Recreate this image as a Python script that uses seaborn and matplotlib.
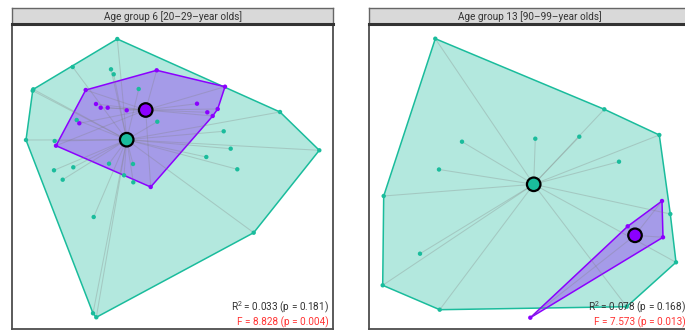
import numpy as np
import pandas as pd
import matplotlib
matplotlib.use("Agg")
import matplotlib.pyplot as plt
import seaborn as sns

# ---------------- data (ordination scores) ----------------
titles = ["Age group 6 [20\u201329\u2013year olds]", "Age group 13 [90\u201399\u2013year olds]"]

p1_teal_x = [117.3, 72.7, 33.3, 32.7, 111.0, 113.7, 138.7, 157.3, 76.7, 26.0, 54.7, 280.0, 319.3, 223.7,
             230.7, 206.3, 109.0, 133.0, 54.0, 73.3, 62.7, 124.0, 133.3, 237.3, 93.7, 253.7, 93.0, 96.3]
p1_teal_y = [39.0, 67.0, 89.3, 90.7, 69.3, 74.3, 89.0, 121.7, 120.0, 140.0, 141.0, 112.0, 150.3, 131.3,
             148.7, 157.0, 163.7, 164.0, 170.3, 167.3, 179.7, 175.3, 182.3, 169.3, 217.0, 232.7, 313.3, 317.3]
p1_purple_x = [156.7, 225.0, 85.7, 96.0, 100.7, 107.7, 126.7, 197.0, 207.3, 217.7, 212.7, 79.3, 56.0, 150.7]
p1_purple_y = [70.3, 86.7, 90.0, 104.0, 107.7, 107.7, 110.3, 103.7, 112.3, 109.0, 116.0, 123.3, 145.7, 187.0]
p1_centroid_x = [126.7, 145.7]
p1_centroid_y = [139.7, 110.0]

p2_teal_x = [435.3, 604.3, 659.3, 462.0, 535.3, 579.3, 619.0, 439.0, 383.7, 420.0, 382.7, 439.7, 670.3,
             676.0, 626.7]
p2_teal_y = [38.7, 109.3, 135.0, 141.7, 138.7, 136.7, 161.7, 169.5, 196.0, 253.7, 285.3, 309.7, 214.0,
             262.3, 306.7]
p2_purple_x = [662.0, 627.7, 663.0, 530.3]
p2_purple_y = [201.0, 226.3, 237.3, 317.7]
p2_centroid_x = [533.7, 635.0]
p2_centroid_y = [184.3, 235.3]

r2_labels = ["R$^{2}$ = 0.033 (p = 0.181)", "R$^{2}$ = 0.078 (p = 0.168)"]
f_labels = ["F = 8.828 (p = 0.004)", "F = 7.573 (p = 0.013)"]

groups = ["teal", "purple"]
colors = {"teal": "#1ABC9C", "purple": "#8B00FF"}

# ---------------- style ----------------
sns.set_theme(style="white")
plt.rcParams["font.family"] = ["Roboto", "DejaVu Sans"]
plt.rcParams["mathtext.default"] = "regular"

W, H = 685, 331
fig = plt.figure(figsize=(W / 100, H / 100), dpi=100)


def hull(pts):
    pts = sorted(set(map(tuple, pts)))
    def cross(o, a, b):
        return (a[0] - o[0]) * (b[1] - o[1]) - (a[1] - o[1]) * (b[0] - o[0])
    lower, upper = [], []
    for p in pts:
        while len(lower) >= 2 and cross(lower[-2], lower[-1], p) <= 0:
            lower.pop()
        lower.append(p)
    for p in reversed(pts):
        while len(upper) >= 2 and cross(upper[-2], upper[-1], p) <= 0:
            upper.pop()
        upper.append(p)
    return np.array(lower[:-1] + upper[:-1])


panels = [
    dict(left=12, xs={"teal": p1_teal_x, "purple": p1_purple_x}, ys={"teal": p1_teal_y, "purple": p1_purple_y},
         cx=p1_centroid_x, cy=p1_centroid_y),
    dict(left=369, xs={"teal": p2_teal_x, "purple": p2_purple_x}, ys={"teal": p2_teal_y, "purple": p2_purple_y},
         cx=p2_centroid_x, cy=p2_centroid_y),
]

pw = 321
top_panel, bot_panel = 25, 329
strip_top, strip_bot = 8, 24

for i, pan in enumerate(panels):
    L = pan["left"]
    ax = fig.add_axes([L / W, (H - bot_panel) / H, pw / W, (bot_panel - top_panel) / H])
    ax.set_xlim(L, L + pw)
    ax.set_ylim(bot_panel, top_panel)
    ax.set_xticks([]); ax.set_yticks([])
    for s in ax.spines.values():
        s.set_color("#4D4D4D"); s.set_linewidth(1.3)

    frames = []
    for g in groups:
        frames.append(pd.DataFrame({"x": pan["xs"][g], "y": pan["ys"][g], "group": g}))
    df = pd.concat(frames, ignore_index=True)
    cdf = pd.DataFrame({"x": pan["cx"], "y": pan["cy"], "group": groups})

    # hulls
    for g in groups:
        pts = np.column_stack([pan["xs"][g], pan["ys"][g]])
        hv = hull(pts)
        ax.fill(hv[:, 0], hv[:, 1], color=colors[g], alpha=0.33, lw=0, zorder=1)
        closed = np.vstack([hv, hv[:1]])
        ax.plot(closed[:, 0], closed[:, 1], color=colors[g], lw=1.1, zorder=2)

    # spokes to centroids
    for k, g in enumerate(groups):
        for x, y in zip(pan["xs"][g], pan["ys"][g]):
            ax.plot([pan["cx"][k], x], [pan["cy"][k], y], color="#808080", alpha=0.3, lw=0.75, zorder=3)

    sns.scatterplot(data=df, x="x", y="y", hue="group", palette=colors, s=10, linewidth=0,
                    legend=False, ax=ax, zorder=4)
    sns.scatterplot(data=cdf, x="x", y="y", hue="group", palette=colors, s=95, edgecolor="black",
                    linewidth=1.6, legend=False, ax=ax, zorder=5)
    ax.set_xlabel(""); ax.set_ylabel("")
    ax.set_xlim(L, L + pw)
    ax.set_ylim(bot_panel, top_panel)

    ax.text(0.9875, 0.072, r2_labels[i], transform=ax.transAxes, ha="right", va="center",
            fontsize=7.2, color="#333333", zorder=6)
    ax.text(0.9875, 0.0214, f_labels[i], transform=ax.transAxes, ha="right", va="center",
            fontsize=7.2, color="#FF3333", zorder=6)

    # strip
    sax = fig.add_axes([L / W, (H - strip_bot) / H, pw / W, (strip_bot - strip_top) / H])
    sax.set_facecolor("#D9D9D9")
    sax.set_xticks([]); sax.set_yticks([])
    for s in sax.spines.values():
        s.set_color("#666666"); s.set_linewidth(1.0)
    sax.spines["bottom"].set_color("#333333"); sax.spines["bottom"].set_linewidth(2.2)
    sax.text(0.5, 0.45, titles[i], transform=sax.transAxes, ha="center", va="center",
             fontsize=7.2, color="#333333")

fig.savefig("out.png", dpi=100)
